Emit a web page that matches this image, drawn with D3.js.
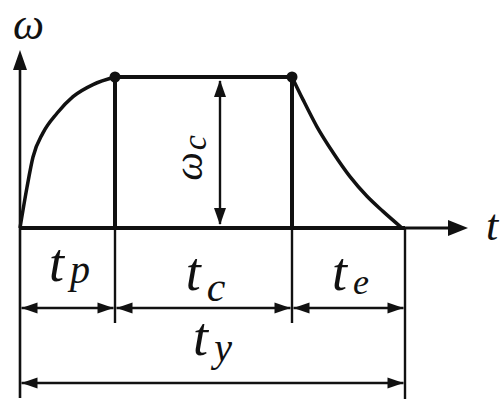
<!DOCTYPE html>
<html>
<head>
<meta charset="utf-8">
<script src="https://cdn.jsdelivr.net/npm/d3@7"></script>
<style>
  html, body { margin: 0; padding: 0; background: #fff; }
  svg { display: block; }
</style>
</head>
<body>
<svg id="chart" width="500" height="399"></svg>
<script>
// Phase boundaries on the time axis: start, end of run-up, end of steady run, end of coast-down
const phaseBreaks = [0, 95, 272, 385];
// Phase labels (main letter + subscript)
const phaseLabels = [
  { main: "t", sub: "p" },
  { main: "t", sub: "c" },
  { main: "t", sub: "e" }
];
const totalLabel = { main: "t", sub: "y" };

// Angular speed during run-up (time, relative speed)
const riseT = [0, 7, 13, 23, 37, 53, 73, 95];
const riseW = [0, 0.27, 0.47, 0.63, 0.76, 0.87, 0.95, 1];
// Angular speed during coast-down
const fallT = [272, 283, 297, 313, 330, 347, 363, 382];
const fallW = [1, 0.85, 0.67, 0.50, 0.34, 0.21, 0.11, 0];
// Steady angular speed
const steadyW = 1;

const svg = d3.select("#chart");
const ink = "#111";
const serif = "'Liberation Serif', 'Times New Roman', Times, serif";

const x = d3.scaleLinear().domain([0, 385]).range([20, 405]);
const y = d3.scaleLinear().domain([0, 1]).range([228, 77]);

const x0 = x(0), yBase = y(0);

function tri(cx, cy, dir, len, half) {
  // filled arrowhead with its tip at (cx, cy)
  let p;
  if (dir === "left")  p = [[cx, cy], [cx + len, cy - half], [cx + len, cy + half]];
  if (dir === "right") p = [[cx, cy], [cx - len, cy - half], [cx - len, cy + half]];
  if (dir === "up")    p = [[cx, cy], [cx - half, cy + len], [cx + half, cy + len]];
  if (dir === "down")  p = [[cx, cy], [cx - half, cy - len], [cx + half, cy - len]];
  svg.append("path").attr("d", "M" + p.map(d => d.join(",")).join("L") + "Z").attr("fill", ink);
}

function txt(sel) {
  return sel.attr("font-family", serif).attr("font-style", "italic").attr("fill", ink);
}

// Axes
svg.append("line").attr("x1", x0).attr("x2", x0).attr("y1", 62).attr("y2", 398)
  .attr("stroke", ink).attr("stroke-width", 2.6);
tri(x0, 50, "up", 20, 7);
svg.append("line").attr("x1", x0).attr("x2", 455).attr("y1", yBase).attr("y2", yBase)
  .attr("stroke", ink).attr("stroke-width", 3);
svg.append("line").attr("x1", x0).attr("x2", x(385)).attr("y1", yBase).attr("y2", yBase)
  .attr("stroke", ink).attr("stroke-width", 4);
tri(468, yBase, "right", 20, 8);

txt(svg.append("text")).attr("x", 13).attr("y", 39).attr("font-size", 44).text("ω");
txt(svg.append("text")).attr("x", 486).attr("y", 240).attr("font-size", 44).text("t");

// Speed profile
const line = d3.line().x(d => x(d[0])).y(d => y(d[1])).curve(d3.curveMonotoneX);
const rise = riseT.map((t, i) => [t, riseW[i]]);
const fall = fallT.map((t, i) => [t, fallW[i]]);
svg.append("path").attr("d", line(rise)).attr("fill", "none").attr("stroke", ink).attr("stroke-width", 3.5);
svg.append("path").attr("d", line(fall)).attr("fill", "none").attr("stroke", ink).attr("stroke-width", 3.5);
svg.append("line").attr("x1", x(phaseBreaks[1])).attr("x2", x(phaseBreaks[2]))
  .attr("y1", y(steadyW)).attr("y2", y(steadyW)).attr("stroke", ink).attr("stroke-width", 4);

// Vertical boundaries of the steady phase
[phaseBreaks[1], phaseBreaks[2]].forEach(t => {
  svg.append("line").attr("x1", x(t)).attr("x2", x(t)).attr("y1", y(steadyW)).attr("y2", yBase)
    .attr("stroke", ink).attr("stroke-width", 4);
  svg.append("circle").attr("cx", x(t)).attr("cy", y(steadyW)).attr("r", 5.5).attr("fill", ink);
});

// Extension lines below the axis
const row1 = 308, row2 = 383;
[[phaseBreaks[1], 323], [phaseBreaks[2], 323], [phaseBreaks[3], 399]].forEach(([t, yEnd]) => {
  svg.append("line").attr("x1", x(t)).attr("x2", x(t)).attr("y1", yBase).attr("y2", yEnd)
    .attr("stroke", ink).attr("stroke-width", 2.4);
});

function dimension(t0, t1, yy) {
  const a = x(t0) + 1.5, b = x(t1) - 1.5;
  svg.append("line").attr("x1", a).attr("x2", b).attr("y1", yy).attr("y2", yy)
    .attr("stroke", ink).attr("stroke-width", 2.4);
  tri(a, yy, "left", 16, 5.5);
  tri(b, yy, "right", 16, 5.5);
}

function label(lbl, cx, baseline, subDrop, subSize) {
  const t = txt(svg.append("text")).attr("x", cx).attr("y", baseline).attr("text-anchor", "middle");
  t.append("tspan").attr("font-size", 54).text(lbl.main);
  t.append("tspan").attr("font-size", subSize).attr("dx", 6).attr("dy", subDrop).text(lbl.sub);
}

const labelBase = [281, 290, 290];
const labelDrop = [2, 11, 4];
const labelSub = [40, 42, 36];
phaseLabels.forEach((lbl, i) => {
  dimension(phaseBreaks[i], phaseBreaks[i + 1], row1);
  label(lbl, (x(phaseBreaks[i]) + x(phaseBreaks[i + 1])) / 2 + 2, labelBase[i], labelDrop[i], labelSub[i]);
});
dimension(phaseBreaks[0], phaseBreaks[3], row2);
label(totalLabel, (x(phaseBreaks[0]) + x(phaseBreaks[3])) / 2, 355, 6, 40);

// Steady speed dimension
const dimX = 220;
svg.append("line").attr("x1", dimX).attr("x2", dimX).attr("y1", y(steadyW) + 4).attr("y2", yBase - 4)
  .attr("stroke", ink).attr("stroke-width", 2.4);
tri(dimX, y(steadyW) + 3, "up", 17, 6);
tri(dimX, yBase - 3, "down", 17, 6);
const wc = txt(svg.append("text")).attr("transform", `translate(202, ${y(0.5) + 28}) rotate(-90)`)
  .attr("text-anchor", "start");
wc.append("tspan").attr("font-size", 40).text("ω");
wc.append("tspan").attr("font-size", 34).attr("dx", 2).attr("dy", 4).text("c");
</script>
</body>
</html>
